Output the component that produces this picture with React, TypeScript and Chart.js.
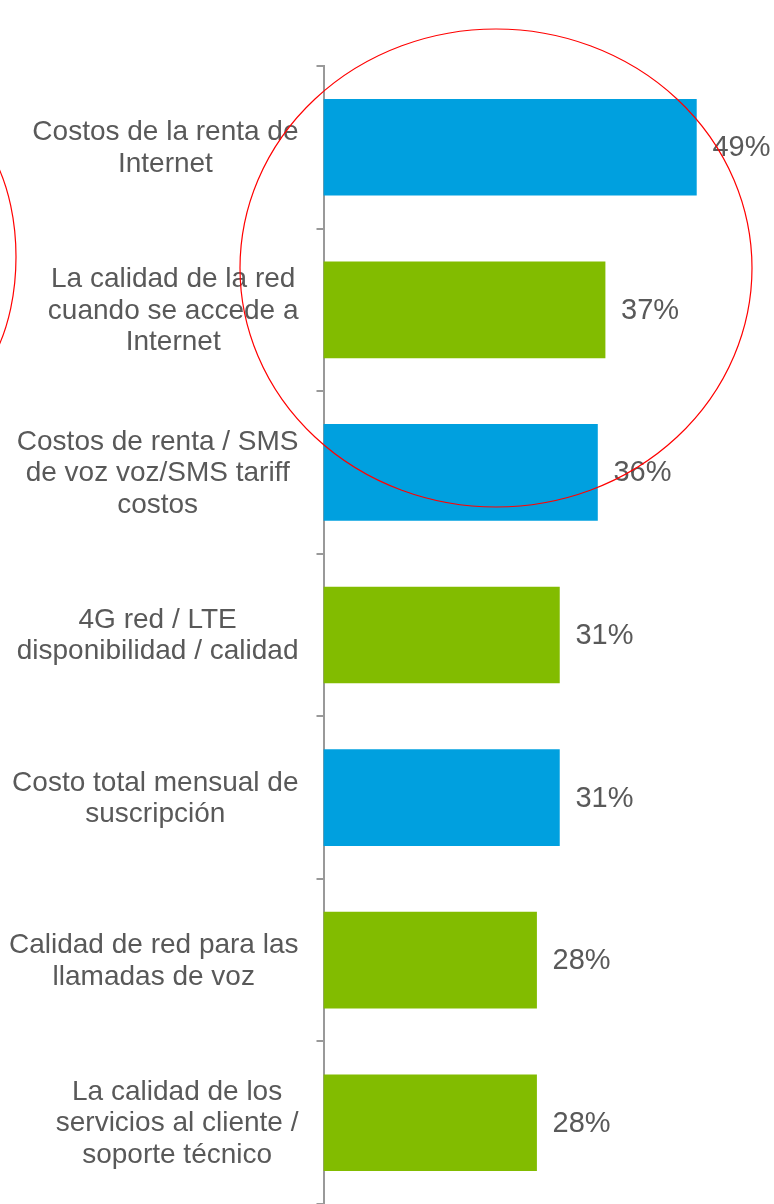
import React, { useEffect, useRef } from "react";
import { Chart, registerables } from "chart.js";

Chart.register(...registerables);

const categories: string[][] = [
  ["Costos de la renta de", "Internet"],
  ["La calidad de la red", "cuando se accede a", "Internet"],
  ["Costos de renta / SMS", "de voz voz/SMS tariff", "costos"],
  ["4G red / LTE", "disponibilidad / calidad"],
  ["Costo total mensual de", "suscripción"],
  ["Calidad de red para las", "llamadas de voz"],
  ["La calidad de los", "servicios al cliente /", "soporte técnico"],
];
const values: number[] = [49, 37, 36, 31, 31, 28, 28];
const BLUE = "#00A0DF";
const GREEN = "#82BC00";
const barColors: string[] = [BLUE, GREEN, BLUE, GREEN, BLUE, GREEN, GREEN];

const FONT = "'Liberation Sans', Arial, sans-serif";
const TEXT = "#595959";

const overlayPlugin = {
  id: "overlay",
  afterDraw(chart: any) {
    const ctx = chart.ctx as CanvasRenderingContext2D;
    const area = chart.chartArea;
    const meta = chart.getDatasetMeta(0);
    ctx.save();
    // value labels
    ctx.font = `29px ${FONT}`;
    ctx.fillStyle = TEXT;
    ctx.textBaseline = "middle";
    ctx.textAlign = "left";
    meta.data.forEach((el: any, i: number) => {
      ctx.fillText(`${values[i]}%`, el.x + 16, el.y + 1);
    });
    // category labels
    ctx.font = `28px ${FONT}`;
    const right = area.left - 25;
    const lh = 31.5;
    categories.forEach((lines, i) => {
      const y = meta.data[i].y;
      const widths = lines.map((l) => ctx.measureText(l).width);
      const bw = Math.max(...widths);
      const cx = right - bw / 2;
      ctx.textAlign = "center";
      const top = y - ((lines.length - 1) * lh) / 2;
      lines.forEach((l, k) => ctx.fillText(l, cx, top + k * lh + 1));
    });
    // red highlight ellipses
    ctx.strokeStyle = "#FF0000";
    ctx.lineWidth = 1.2;
    ctx.beginPath();
    ctx.ellipse(496, 268, 256, 239, 0, 0, Math.PI * 2);
    ctx.stroke();
    ctx.beginPath();
    ctx.ellipse(-60, 257, 76, 140, 0, 0, Math.PI * 2);
    ctx.stroke();
    ctx.restore();
  },
};

export default function App() {
  const ref = useRef<HTMLCanvasElement | null>(null);
  useEffect(() => {
    document.body.style.margin = "0";
    const chart = new Chart(ref.current as HTMLCanvasElement, {
      type: "bar",
      data: {
        labels: categories.map((c) => c.join(" ")),
        datasets: [
          {
            data: values,
            backgroundColor: barColors,
            borderWidth: 0,
            barThickness: 96,
          },
        ],
      },
      options: {
        indexAxis: "y",
        responsive: false,
        animation: false,
        layout: { padding: { left: 316.5, top: 66, right: 70, bottom: 0 } },
        plugins: {
          legend: { display: false },
          tooltip: { enabled: false },
        },
        scales: {
          x: { display: false, min: 0, max: 50 },
          y: {
            ticks: { display: false },
            grid: {
              drawOnChartArea: false,
              drawTicks: true,
              tickLength: 7,
              color: "#999999",
              lineWidth: 2,
              offset: true,
            },
            border: { display: true, color: "#999999", width: 2 },
          },
        },
      },
      plugins: [overlayPlugin],
    });
    return () => chart.destroy();
  }, []);
  return <canvas ref={ref} width={774} height={1204} style={{ display: "block" }} />;
}
